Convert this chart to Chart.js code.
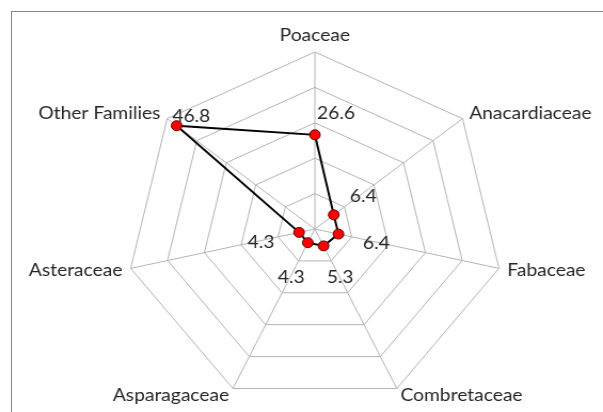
<!DOCTYPE html>
<html>
<head>
<meta charset="utf-8">
<script src="https://cdn.jsdelivr.net/npm/chart.js@4.4.0/dist/chart.umd.min.js"></script>
<style>
    html, body { margin: 0; padding: 0; background: #fff; overflow: hidden; }
    #frame { position: absolute; left: 11px; top: 11px; width: 640px; height: 460px; border: 1px solid #868686; }
    /* the original picture is a little wider than tall, so stretch the chart sideways */
    #wrap { position: absolute; left: 0; top: 0; width: 565px; height: 412px; transform: scaleX(1.0673); transform-origin: 0 0; }
</style>
</head>
<body>
<div id="frame"></div>
<div id="wrap"><canvas id="radarChart" width="565" height="412"></canvas></div>
<script>
// Plant families and their share
const families = ['Poaceae', 'Anacardiaceae', 'Fabaceae', 'Combretaceae', 'Asparagaceae', 'Asteraceae', 'Other Families'];
const shares = [26.6, 6.4, 6.4, 5.3, 4.3, 4.3, 46.8];
const scaleMax = 50;
const scaleStep = 10;

// Where each value label sits relative to its point: dx, dy, alignment
const valueLabelOffsets = [
    [2, -22, 'left'],
    [15, -19, 'left'],
    [23, 9, 'left'],
    [3, 31, 'left'],
    [-3, 34, 'right'],
    [-23, 10, 'right'],
    [-4, -10, 'left']
];

const labelFont = '18px Lato';
const textColor = '#262626';

// Draws the family names and the value labels
const radarLabels = {
    id: 'radarLabels',
    afterDatasetsDraw(chart) {
        const ctx = chart.ctx;
        const scale = chart.scales.r;
        ctx.save();
        ctx.font = labelFont;
        ctx.fillStyle = textColor;

        families.forEach((name, i) => {
            const pos = scale.getPointPosition(i, scale.drawingArea + 8);
            const dx = pos.x - scale.xCenter;
            if (Math.abs(dx) < 1) {
                ctx.textAlign = 'center';
                ctx.textBaseline = 'bottom';
            } else {
                ctx.textAlign = dx > 0 ? 'left' : 'right';
                ctx.textBaseline = 'middle';
            }
            ctx.fillText(name, pos.x, pos.y);
        });

        const points = chart.getDatasetMeta(0).data;
        points.forEach((pt, i) => {
            const [dx, dy, align] = valueLabelOffsets[i];
            ctx.textAlign = align;
            ctx.textBaseline = 'middle';
            ctx.fillText(shares[i].toFixed(1), pt.x + dx, pt.y + dy);
        });
        ctx.restore();
    }
};

new Chart(document.getElementById('radarChart'), {
    type: 'radar',
    data: {
        labels: families,
        datasets: [{
            data: shares,
            fill: false,
            borderColor: '#000000',
            borderWidth: 2,
            pointRadius: 5,
            pointBackgroundColor: '#ff0000',
            pointBorderColor: '#600000',
            pointBorderWidth: 1
        }]
    },
    options: {
        responsive: false,
        animation: false,
        layout: {
            padding: { left: 118, right: 93, top: 52, bottom: 6 }
        },
        plugins: {
            legend: { display: false },
            tooltip: { enabled: false }
        },
        scales: {
            r: {
                min: 0,
                max: scaleMax,
                ticks: { stepSize: scaleStep, display: false },
                pointLabels: { display: false },
                grid: { color: '#b4b4b4', lineWidth: 1 },
                angleLines: { color: '#b4b4b4', lineWidth: 1 }
            }
        }
    },
    plugins: [radarLabels]
});
</script>
</body>
</html>
